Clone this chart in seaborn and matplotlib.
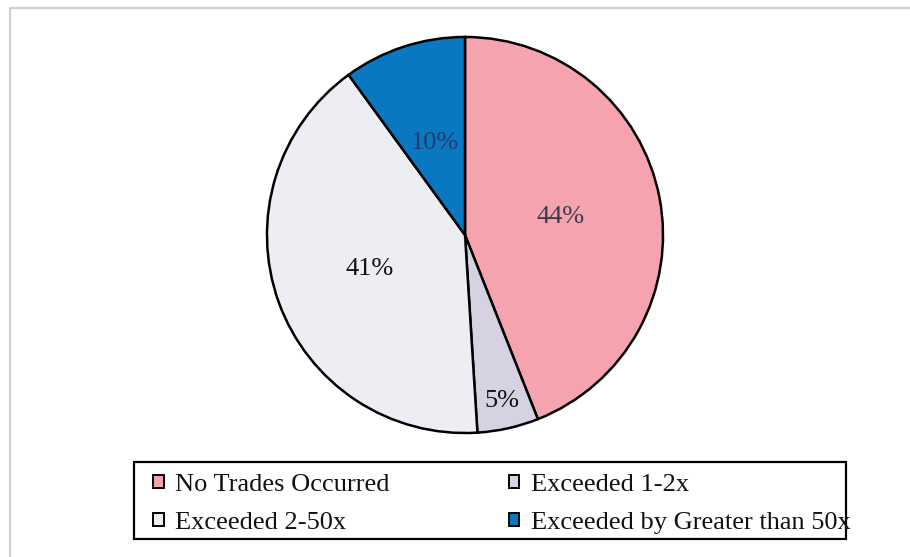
import matplotlib
matplotlib.use("Agg")
import matplotlib.pyplot as plt
import seaborn as sns
from matplotlib.patches import Rectangle, Patch
import numpy as np

# Data
categories = ["No Trades Occurred", "Exceeded 1-2x", "Exceeded 2-50x", "Exceeded by Greater than 50x"]
shares = [44, 5, 41, 10]
colors = ["#F5A3AE", "#D6D2E2", "#ECEEF3", "#0A78C0"]
label_colors = ["#3b3b4b", "#111111", "#111111", "#1d3f6e"]
label_dist = [0.49, 0.86, 0.51, 0.49]

sns.set_theme(style="white")
plt.rcParams["font.family"] = ["Liberation Serif", "DejaVu Serif"]

W, H = 910, 557
fig = plt.figure(figsize=(W / 100, H / 100), dpi=100)
fig.patch.set_facecolor("white")

# light grey frame, only top and left visible
fig.patches.append(Rectangle((10 / W, -0.05), 1.2, 1 - 8 / H + 0.05, transform=fig.transFigure,
                             facecolor="none", edgecolor="#cfcfd6", linewidth=1.5))

cx, cy, r = 465, 235, 200
ax = fig.add_axes([(cx - r) / W, 1 - (cy + r) / H, 2 * r / W, 2 * r / H])
wedges, texts, autotexts = ax.pie(shares, colors=colors, startangle=90, counterclock=False,
                                  autopct="%d%%", pctdistance=0.5,
                                  wedgeprops=dict(edgecolor="black", linewidth=1.8))
for w, t, d, c in zip(wedges, autotexts, label_dist, label_colors):
    ang = np.deg2rad((w.theta1 + w.theta2) / 2)
    t.set_position((d * np.cos(ang), d * np.sin(ang)))
    t.set_fontsize(19)
    t.set_color(c)
ax.set_xlim(-1.01, 1.01)
ax.set_ylim(-1.01, 1.01)
ax.axis("off")

# legend box drawn separately, legend entries without frame
x0, y0, x1, y1 = 134, 462, 846, 539
fig.patches.append(Rectangle((x0 / W, 1 - y1 / H), (x1 - x0) / W, (y1 - y0) / H,
                             transform=fig.transFigure, facecolor="white",
                             edgecolor="black", linewidth=1.6, zorder=0))

order = [0, 2, 1, 3]
handles = [Patch(facecolor=colors[i], edgecolor="black", linewidth=1.4) for i in order]
labels = [categories[i] for i in order]
leg = fig.legend(handles, labels, ncol=2, loc="center left",
                 bbox_to_anchor=(153 / W, 1 - 504 / H),
                 borderaxespad=0, borderpad=0, fontsize=19,
                 handlelength=0.4, handleheight=0.4, handletextpad=0.45,
                 labelspacing=0.62, columnspacing=4.5, frameon=False)
for t in leg.get_texts():
    t.set_color("#111111")

fig.savefig("out.png", dpi=100)
